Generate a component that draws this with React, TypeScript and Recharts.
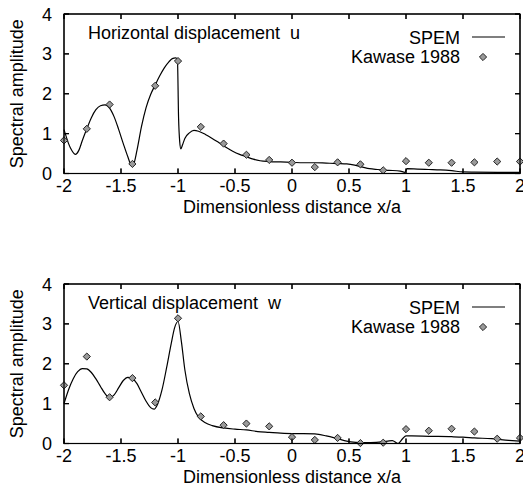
import React from 'react';
import { ComposedChart, Line, Scatter, XAxis, YAxis } from 'recharts';

// Tick values shared by both panels
const X_TICKS = [-2, -1.5, -1, -0.5, 0, 0.5, 1, 1.5, 2];
const Y_TICKS = [0, 1, 2, 3, 4];
const X_DOMAIN = [-2, 2];
const Y_DOMAIN = [0, 4];

const SERIES_SPEM = 'SPEM';
const SERIES_KAWASE = 'Kawase 1988';
const X_TITLE = 'Dimensionless distance x/a';
const Y_TITLE = 'Spectral amplitude';

// Horizontal displacement u — SPEM solution
const U_SPEM_X = [
  -2.0, -1.98, -1.96, -1.93, -1.9, -1.87, -1.84, -1.8, -1.76, -1.72, -1.68, -1.64, -1.6, -1.56,
  -1.52, -1.48, -1.44, -1.41, -1.39, -1.36, -1.32, -1.28, -1.24, -1.2, -1.16, -1.12, -1.08,
  -1.05, -1.02, -1.005, -0.995, -0.985, -0.975, -0.96, -0.94, -0.9, -0.86, -0.82, -0.76, -0.7,
  -0.64, -0.58, -0.52, -0.46, -0.4, -0.34, -0.28, -0.2, -0.1, 0.0, 0.1, 0.2, 0.3, 0.4, 0.48,
  0.55, 0.62, 0.68, 0.75, 0.85, 0.95, 0.99, 1.01, 1.1, 1.2, 1.3, 1.4, 1.5, 1.6, 1.8, 2.0,
];
const U_SPEM_Y = [
  1.1, 0.92, 0.75, 0.57, 0.48, 0.58, 0.82, 1.12, 1.4, 1.6, 1.7, 1.72, 1.64, 1.42,
  1.1, 0.75, 0.42, 0.22, 0.24, 0.58, 1.18, 1.65, 1.98, 2.22, 2.45, 2.65, 2.8,
  2.88, 2.9, 2.86, 1.4, 0.8, 0.62, 0.72, 0.88, 1.02, 1.08, 1.06, 0.98, 0.88,
  0.77, 0.66, 0.56, 0.48, 0.42, 0.36, 0.32, 0.3, 0.29, 0.28, 0.27, 0.27, 0.26, 0.25, 0.24,
  0.21, 0.16, 0.12, 0.1, 0.08, 0.06, 0.03, 0.12, 0.11, 0.1, 0.09, 0.07, 0.04, 0.035, 0.03, 0.03,
];

// Kawase (1988) sample positions
const KAWASE_X = [
  -2, -1.8, -1.6, -1.4, -1.2, -1, -0.8, -0.6, -0.4, -0.2, 0, 0.2, 0.4, 0.6, 0.8, 1, 1.2, 1.4,
  1.6, 1.8, 2,
];
// Horizontal displacement u — Kawase (1988)
const U_KAWASE_Y = [
  0.83, 1.12, 1.73, 0.24, 2.2, 2.82, 1.17, 0.75, 0.47, 0.34, 0.27, 0.16, 0.28, 0.23, 0.08, 0.31,
  0.27, 0.27, 0.28, 0.3, 0.3,
];

// Vertical displacement w — SPEM solution
const W_SPEM_X = [
  -2.0, -1.96, -1.92, -1.88, -1.84, -1.8, -1.76, -1.72, -1.68, -1.64, -1.6, -1.56, -1.52, -1.48,
  -1.44, -1.4, -1.36, -1.32, -1.28, -1.24, -1.21, -1.18, -1.14, -1.1, -1.06, -1.03, -1.0, -0.97,
  -0.94, -0.9, -0.86, -0.82, -0.76, -0.7, -0.6, -0.5, -0.4, -0.3, -0.2, -0.1, 0.0, 0.1, 0.2,
  0.3, 0.4, 0.48, 0.56, 0.64, 0.74, 0.84, 0.88, 0.93, 0.97, 1.0, 1.05, 1.2, 1.4, 1.5, 1.6, 1.75,
  1.9, 2.0,
];
const W_SPEM_Y = [
  1.0, 1.35, 1.62, 1.8, 1.88, 1.87, 1.78, 1.62, 1.43, 1.25, 1.15, 1.22, 1.4, 1.58,
  1.66, 1.63, 1.5, 1.28, 1.06, 0.9, 0.86, 0.98, 1.35, 1.9, 2.5, 2.9, 3.06, 2.55,
  1.85, 1.25, 0.88, 0.66, 0.52, 0.45, 0.39, 0.36, 0.34, 0.3, 0.28, 0.26, 0.25, 0.25, 0.24,
  0.19, 0.12, 0.06, 0.03, 0.02, 0.03, 0.06, 0.07, 0.0, 0.12, 0.19, 0.19, 0.18, 0.17, 0.16, 0.14, 0.12,
  0.08, 0.06,
];

// Vertical displacement w — Kawase (1988)
const W_KAWASE_Y = [
  1.46, 2.18, 1.16, 1.64, 1.03, 3.14, 0.68, 0.46, 0.5, 0.43, 0.16, 0.09, 0.14, 0.01, 0.02, 0.36,
  0.32, 0.37, 0.3, 0.12, 0.14,
];

const FONT = '"Liberation Sans", Arial, Helvetica, sans-serif';
const FS = 18;
const PAGE_W = 523;
const PAGE_H = 503;
const TICK_LEN = 5;
const TICK_IN = -TICK_LEN; // negative size: tick marks point into the plot
const TICK_GAP = TICK_LEN; // puts the label anchor back onto the axis line

const PLOT_TOP = 14;
const PLOT_H = 159.5;
const PLOT_LEFT = 64;
const PLOT_RIGHT = 520;
const XAXIS_H = 42;
const FRAME_AXIS = 10; // room given to the mirrored top/right axes
const PLOT_BOTTOM = PLOT_TOP + PLOT_H;
const PLOT_W = PLOT_RIGHT - PLOT_LEFT;
const CHART_W = PLOT_RIGHT + FRAME_AXIS;
const CHART_H = PLOT_BOTTOM + XAXIS_H;

// Same linear mapping as the chart's axes, used for the boxed frame ticks
const frameX = (v: number) => PLOT_LEFT + ((v - X_DOMAIN[0]) / (X_DOMAIN[1] - X_DOMAIN[0])) * PLOT_W;
const frameY = (v: number) => PLOT_BOTTOM - ((v - Y_DOMAIN[0]) / (Y_DOMAIN[1] - Y_DOMAIN[0])) * PLOT_H;

const zip = (xs: number[], ys: number[]) => xs.map((x, i) => ({ x, y: ys[i] }));

const Diamond = (props: any) => {
  const { cx, cy } = props;
  if (cx == null || cy == null) return null;
  const r = 3.6;
  return (
    <path
      d={`M${cx},${cy - r}L${cx + r},${cy}L${cx},${cy + r}L${cx - r},${cy}Z`}
      fill="#9a9a9a"
      stroke="#222"
      strokeWidth={1}
    />
  );
};

// Tick labels; (x, y) arrive on the axis line because TICK_GAP cancels TICK_IN
const BottomLabel = (props: any) => {
  const { x, y, payload } = props;
  return (
    <text x={x} y={y + 18} textAnchor="middle" fill="#000" fontSize={FS} fontFamily={FONT}>
      {String(payload.value)}
    </text>
  );
};

const LeftLabel = (props: any) => {
  const { x, y, payload } = props;
  return (
    <text x={x - 12} y={y + 6.5} textAnchor="end" fill="#000" fontSize={FS} fontFamily={FONT}>
      {String(payload.value)}
    </text>
  );
};

// Mirrored frame axes carry tick marks only
const NoLabel = () => <g />;

// Closed box with inward ticks on all four sides
function Frame() {
  return (
    <g stroke="#000" strokeWidth={1.2} fill="none">
      <rect x={PLOT_LEFT} y={PLOT_TOP} width={PLOT_W} height={PLOT_H} />
      {X_TICKS.map((t) => (
        <g key={`x${t}`}>
          <line x1={frameX(t)} x2={frameX(t)} y1={PLOT_BOTTOM} y2={PLOT_BOTTOM - TICK_LEN} />
          <line x1={frameX(t)} x2={frameX(t)} y1={PLOT_TOP} y2={PLOT_TOP + TICK_LEN} />
        </g>
      ))}
      {Y_TICKS.map((t) => (
        <g key={`y${t}`}>
          <line x1={PLOT_LEFT} x2={PLOT_LEFT + TICK_LEN} y1={frameY(t)} y2={frameY(t)} />
          <line x1={PLOT_RIGHT} x2={PLOT_RIGHT - TICK_LEN} y1={frameY(t)} y2={frameY(t)} />
        </g>
      ))}
    </g>
  );
}

type PanelProps = {
  top: number;
  title: string;
  spem: { x: number; y: number }[];
  kawase: { x: number; y: number }[];
};

function Panel({ top, title, spem, kawase }: PanelProps) {
  return (
    <div style={{ position: 'absolute', left: 0, top, width: CHART_W, height: CHART_H }}>
      <ComposedChart
        width={CHART_W}
        height={CHART_H}
        margin={{ top: PLOT_TOP - FRAME_AXIS, right: 0, bottom: 0, left: 0 }}
      >
        <XAxis
          xAxisId="b"
          type="number"
          dataKey="x"
          domain={X_DOMAIN}
          ticks={X_TICKS}
          height={XAXIS_H}
          tickSize={TICK_IN}
          tickMargin={TICK_GAP}
          stroke="#000"
          tick={BottomLabel}
          label={{
            value: X_TITLE,
            position: 'insideBottom',
            offset: 2.5,
            style: { fill: '#000', fontSize: FS, fontFamily: FONT },
          }}
        />
        <XAxis
          xAxisId="t"
          orientation="top"
          type="number"
          dataKey="x"
          domain={X_DOMAIN}
          ticks={X_TICKS}
          height={FRAME_AXIS}
          tickSize={TICK_IN}
          tick={NoLabel}
          stroke="#000"
        />
        <YAxis
          yAxisId="l"
          type="number"
          domain={Y_DOMAIN}
          ticks={Y_TICKS}
          width={PLOT_LEFT}
          tickSize={TICK_IN}
          tickMargin={TICK_GAP}
          stroke="#000"
          tick={LeftLabel}
          label={{
            value: Y_TITLE,
            angle: -90,
            position: 'insideLeft',
            offset: 17,
            style: { textAnchor: 'middle', fill: '#000', fontSize: FS, fontFamily: FONT },
          }}
        />
        <YAxis
          yAxisId="r"
          orientation="right"
          type="number"
          domain={Y_DOMAIN}
          ticks={Y_TICKS}
          width={FRAME_AXIS}
          tickSize={TICK_IN}
          tick={NoLabel}
          stroke="#000"
        />
        <Line
          xAxisId="b"
          yAxisId="l"
          data={spem}
          dataKey="y"
          type="monotone"
          stroke="#000"
          strokeWidth={1.2}
          dot={false}
          activeDot={false}
          isAnimationActive={false}
          name={SERIES_SPEM}
        />
        {/* the top/right axes share the bottom/left domains exactly */}
        <Scatter
          xAxisId="t"
          yAxisId="r"
          data={kawase}
          dataKey="y"
          shape={Diamond}
          isAnimationActive={false}
          name={SERIES_KAWASE}
        />
      </ComposedChart>
      <svg
        width={CHART_W}
        height={CHART_H}
        style={{ position: 'absolute', left: 0, top: 0, pointerEvents: 'none' }}
        fontFamily={FONT}
        fontSize={FS}
      >
        <Frame />
        <text x={88} y={PLOT_TOP + 25} fill="#000">
          {title}
        </text>
        <text x={460} y={PLOT_TOP + 30} textAnchor="end" fill="#000">
          {SERIES_SPEM}
        </text>
        <line x1={472} x2={505} y1={PLOT_TOP + 23} y2={PLOT_TOP + 23} stroke="#000" strokeWidth={1.2} />
        <text x={460} y={PLOT_TOP + 48.5} textAnchor="end" fill="#000">
          {SERIES_KAWASE}
        </text>
        <Diamond cx={483} cy={PLOT_TOP + 43} />
      </svg>
    </div>
  );
}

export default function App() {
  return (
    <div
      style={{
        position: 'absolute',
        left: 0,
        top: 0,
        width: PAGE_W,
        height: PAGE_H,
        overflow: 'hidden',
        background: '#fff',
      }}
    >
      <Panel
        top={0}
        title={'Horizontal displacement\u00a0\u00a0u'}
        spem={zip(U_SPEM_X, U_SPEM_Y)}
        kawase={zip(KAWASE_X, U_KAWASE_Y)}
      />
      <Panel
        top={270}
        title={'Vertical displacement\u00a0\u00a0w'}
        spem={zip(W_SPEM_X, W_SPEM_Y)}
        kawase={zip(KAWASE_X, W_KAWASE_Y)}
      />
    </div>
  );
}
